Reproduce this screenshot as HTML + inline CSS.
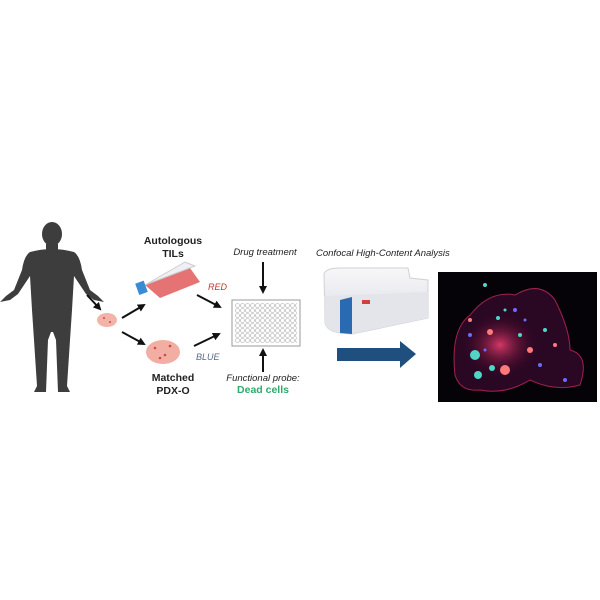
<!DOCTYPE html>
<html><head><style>body{margin:0;background:#fff}svg{display:block}text{font-family:"Liberation Sans",sans-serif}</style></head>
<body>
<svg width="600" height="600" viewBox="0 0 600 600" xmlns="http://www.w3.org/2000/svg">
<defs>
<marker id="a" markerWidth="8" markerHeight="8" refX="6" refY="4" orient="auto" markerUnits="userSpaceOnUse"><path d="M0,0 L8,4 L0,8 z" fill="#111"/></marker>
<radialGradient id="g" cx="50%" cy="50%" r="50%"><stop offset="0" stop-color="#ff4477"/><stop offset="1" stop-color="#400020" stop-opacity="0"/></radialGradient>
<linearGradient id="m" x1="0" y1="0" x2="0" y2="1"><stop offset="0" stop-color="#f7f7f9"/><stop offset="1" stop-color="#d8dae0"/></linearGradient>
</defs>
<!-- human -->
<g fill="#3d3d3d">
<ellipse cx="52" cy="234" rx="10" ry="12"/>
<rect x="46" y="244" width="12" height="8"/>
<path d="M30,252 Q52,246 74,252 Q80,256 82,270 L90,290 L98,296 L104,302 L94,300 L86,294 L74,276 L72,310 L70,340 L67,386 L70,392 L58,392 L56,340 L53,332 L51,332 L48,340 L46,392 L34,392 L37,386 L34,340 L32,310 L30,276 L18,294 L10,300 L0,302 L6,296 L14,290 L22,270 Q24,256 30,252 z"/>
</g>
<!-- arrows -->
<g stroke="#111" stroke-width="2" marker-end="url(#a)">
<line x1="87" y1="295" x2="100" y2="309"/>
<line x1="122" y1="318" x2="144" y2="305"/>
<line x1="122" y1="332" x2="144" y2="344"/>
<line x1="197" y1="295" x2="220" y2="307"/>
<line x1="194" y1="346" x2="219" y2="334"/>
<line x1="263" y1="262" x2="263" y2="292"/>
<line x1="263" y1="372" x2="263" y2="350"/>
</g>
<!-- tissue -->
<ellipse cx="107" cy="320" rx="10" ry="7" fill="#f3b3a8"/>
<ellipse cx="163" cy="352" rx="17" ry="12" fill="#f2aea2"/>
<g fill="#c94a4a"><circle cx="155" cy="348" r="1.3"/><circle cx="165" cy="355" r="1.3"/><circle cx="170" cy="346" r="1.3"/><circle cx="160" cy="358" r="1.3"/><circle cx="104" cy="318" r="1"/><circle cx="110" cy="322" r="1"/></g>
<!-- flask -->
<path d="M145,285 L190,268 L200,282 L160,298 z" fill="#e57373"/>
<path d="M145,285 L185,262 L195,266 L150,283 z" fill="#eef0f5" stroke="#ccc"/>
<rect x="137" y="282" width="9" height="12" fill="#3a8bd6" transform="rotate(-20 141 288)"/>
<text x="173" y="244" font-size="10.5" font-weight="bold" text-anchor="middle" fill="#222">Autologous</text>
<text x="173" y="257" font-size="10.5" font-weight="bold" text-anchor="middle" fill="#222">TILs</text>
<text x="208" y="290" font-size="9" font-style="italic" fill="#c0392b">RED</text>
<text x="196" y="360" font-size="9" font-style="italic" fill="#5a6a8a">BLUE</text>
<text x="173" y="381" font-size="10.5" font-weight="bold" text-anchor="middle" fill="#222">Matched</text>
<text x="173" y="394" font-size="10.5" font-weight="bold" text-anchor="middle" fill="#222">PDX-O</text>
<!-- plate -->
<rect x="232" y="300" width="68" height="46" fill="#fff" stroke="#999"/>
<pattern id="w" width="5" height="5" patternUnits="userSpaceOnUse" x="235" y="303"><circle cx="2.5" cy="2.5" r="2" fill="none" stroke="#aaa" stroke-width="0.6"/></pattern>
<rect x="235" y="303" width="62" height="40" fill="url(#w)"/>
<text x="265" y="255" font-size="9.5" font-style="italic" text-anchor="middle" fill="#222">Drug treatment</text>
<text x="263" y="381" font-size="9.5" font-style="italic" text-anchor="middle" fill="#222">Functional probe:</text>
<text x="263" y="393" font-size="10.5" font-weight="bold" text-anchor="middle" fill="#2eaa6e">Dead cells</text>
<!-- machine -->
<text x="316" y="256" font-size="9.5" font-style="italic" fill="#222">Confocal High-Content Analysis</text>
<path d="M324,274 Q326,268 340,268 L408,268 L410,278 L428,280 L428,318 L352,334 L340,333 Q326,331 325,322 z" fill="url(#m)" stroke="#d0d0d6"/>
<path d="M324,296 L428,292 L428,318 L352,334 L340,333 Q326,331 325,322 z" fill="#e4e5ea"/>
<path d="M340,300 L352,297 L352,334 L340,333 z" fill="#2a6ab0"/>
<rect x="362" y="300" width="8" height="4" fill="#d04040"/>
<!-- big arrow -->
<path d="M337,348 L400,348 L400,341 L416,354 L400,368 L400,361 L337,361 z" fill="#1f4f7f"/>
<!-- micrograph -->
<rect x="438" y="272" width="159" height="130" fill="#050208"/>
<path d="M455,375 Q450,330 470,315 Q490,290 515,295 Q540,280 555,300 Q570,330 570,350 Q590,355 580,385 Q555,392 530,380 Q505,395 480,390 Q460,392 455,375 z" fill="#2a0824" stroke="#a0224a" stroke-width="1"/>
<ellipse cx="500" cy="345" rx="38" ry="32" fill="url(#g)" opacity="0.8"/>
<g fill="#4fd6c8"><circle cx="475" cy="355" r="5"/><circle cx="478" cy="375" r="4"/><circle cx="498" cy="318" r="2"/><circle cx="520" cy="335" r="2"/><circle cx="545" cy="330" r="2"/><circle cx="485" cy="285" r="2"/><circle cx="492" cy="368" r="3"/><circle cx="505" cy="310" r="1.5"/></g>
<g fill="#ff7a7a"><circle cx="505" cy="370" r="5"/><circle cx="490" cy="332" r="3"/><circle cx="530" cy="350" r="3"/><circle cx="470" cy="320" r="2"/><circle cx="555" cy="345" r="2"/></g>
<g fill="#6a6aff"><circle cx="515" cy="310" r="2"/><circle cx="540" cy="365" r="2"/><circle cx="565" cy="380" r="2"/><circle cx="470" cy="335" r="2"/><circle cx="525" cy="320" r="1.5"/><circle cx="485" cy="350" r="1.5"/></g>
</svg>
</body></html>
